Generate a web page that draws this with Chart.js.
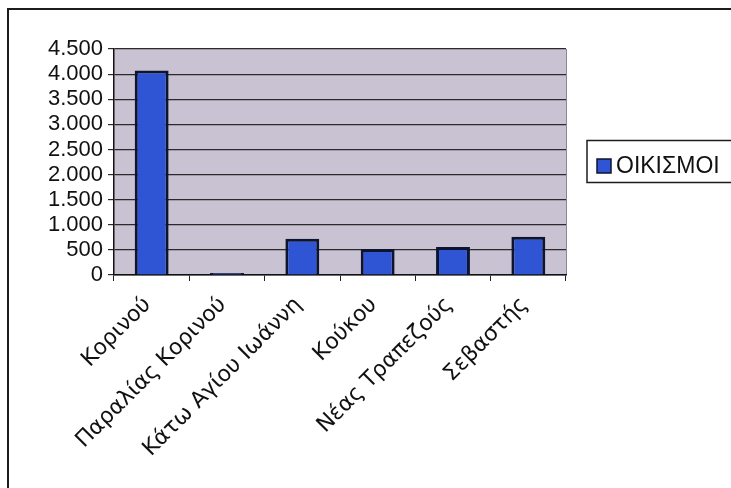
<!DOCTYPE html>
<html>
<head>
<meta charset="utf-8">
<script src="https://cdn.jsdelivr.net/npm/chart.js@4/dist/chart.umd.min.js"></script>
<style>
  html, body { margin: 0; padding: 0; background: #fff; }
  #wrap { position: relative; width: 731px; height: 488px; overflow: hidden; }
  #frame { position: absolute; left: 7px; top: 8px; width: 740px; height: 500px;
           border-left: 2px solid #1c1c1c; border-top: 2px solid #1c1c1c; }
  canvas { position: absolute; left: 0; top: 0; }
</style>
</head>
<body>
<div id="wrap">
  <div id="frame"></div>
  <canvas id="c" width="731" height="488"></canvas>
</div>
<script>
// Settlements and their counts
const categories = ['Κορινού', 'Παραλίας Κορινού', 'Κάτω Αγίου Ιωάννη', 'Κούκου', 'Νέας Τραπεζούς', 'Σεβαστής'];
const seriesName = 'ΟΙΚΙΣΜΟΙ';
const seriesValues = [4070, 40, 720, 520, 560, 760];
const yTickValues = [0, 500, 1000, 1500, 2000, 2500, 3000, 3500, 4000, 4500];

const FONT = "'Liberation Sans', Arial, sans-serif";
const LABEL_FONT = "'DejaVu Sans', 'Liberation Sans', sans-serif";
const BAR_FILL = '#2f55d4';
const BAR_EDGE = '#0d1430';

// Lavender plot background with a faint right edge
const plotBackground = {
  id: 'plotBackground',
  beforeDraw(chart) {
    const { ctx, chartArea: a } = chart;
    ctx.save();
    ctx.fillStyle = '#c9c2d3';
    ctx.fillRect(a.left, a.top, a.right - a.left, a.bottom - a.top);
    ctx.strokeStyle = '#8a8494';
    ctx.lineWidth = 1;
    ctx.beginPath();
    ctx.moveTo(a.right + 0.5, a.top);
    ctx.lineTo(a.right + 0.5, a.bottom);
    ctx.stroke();
    ctx.restore();
  }
};

// Boxed legend to the right of the plot
const boxedLegend = {
  id: 'boxedLegend',
  afterDraw(chart) {
    const { ctx } = chart;
    const ds = chart.data.datasets[0];
    ctx.save();
    ctx.strokeStyle = '#1c1c1c';
    ctx.lineWidth = 1.5;
    ctx.strokeRect(587, 140.5, 160, 42);
    ctx.fillStyle = ds.backgroundColor;
    ctx.fillRect(597, 159, 14, 14);
    ctx.strokeStyle = BAR_EDGE;
    ctx.lineWidth = 1.5;
    ctx.strokeRect(597, 159, 14, 14);
    ctx.fillStyle = '#111';
    ctx.font = '23px ' + FONT;
    ctx.textBaseline = 'alphabetic';
    ctx.textAlign = 'left';
    ctx.fillText(ds.label, 616, 173);
    ctx.restore();
  }
};

new Chart(document.getElementById('c'), {
  type: 'bar',
  data: {
    labels: categories,
    datasets: [{
      label: seriesName,
      data: seriesValues,
      backgroundColor: BAR_FILL,
      borderColor: BAR_EDGE,
      borderWidth: 3,
      barPercentage: 0.45,
      categoryPercentage: 1.0
    }]
  },
  options: {
    responsive: false,
    animation: false,
    devicePixelRatio: 1,
    layout: { padding: { left: 0, top: 49, right: 165, bottom: 0 } },
    plugins: { legend: { display: false }, tooltip: { enabled: false } },
    scales: {
      x: {
        grid: { display: true, drawOnChartArea: false, drawTicks: true, tickLength: 6, color: '#222', offset: true },
        border: { display: true, color: '#111', width: 1.5 },
        ticks: {
          color: '#111',
          font: { family: LABEL_FONT, size: 22 },
          minRotation: 45, maxRotation: 45,
          autoSkip: false,
          padding: 11,
          labelOffset: -4
        },
        afterFit(scale) { scale.height = 488 - 275; }
      },
      y: {
        min: 0, max: 4500,
        afterBuildTicks(scale) { scale.ticks = yTickValues.map(v => ({ value: v })); },
        grid: { color: '#2a2a2a', lineWidth: 1.2, drawTicks: true, tickLength: 6 },
        border: { display: true, color: '#111', width: 1.5 },
        ticks: {
          color: '#111',
          autoSkip: false,
          font: { family: FONT, size: 22 },
          padding: 5,
          callback: v => v.toLocaleString('de-DE')
        },
        afterFit(scale) { scale.width = 114; }
      }
    }
  },
  plugins: [plotBackground, boxedLegend]
});
</script>
</body>
</html>
